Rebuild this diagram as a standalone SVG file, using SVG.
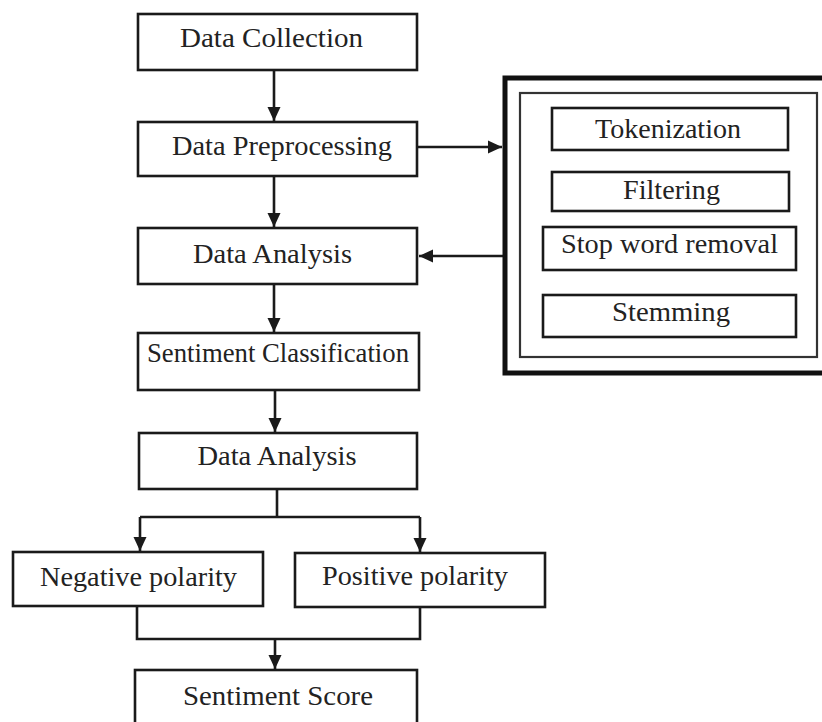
<svg xmlns="http://www.w3.org/2000/svg" width="822" height="722" viewBox="0 0 822 722">
<style>
.box{fill:#fff;stroke:#1a1a1a;stroke-width:2.6}
.t{font-family:"Liberation Serif","Times New Roman",serif;font-size:28px;fill:#222;text-anchor:middle}
.c{fill:none;stroke:#1a1a1a;stroke-width:2.6}
</style>
<defs>
<marker id="ah" markerUnits="userSpaceOnUse" markerWidth="16" markerHeight="14" refX="14" refY="7" orient="auto">
<path d="M0,0.5 L14,7 L0,13.5 Z" fill="#1a1a1a"/>
</marker>
</defs>
<rect width="822" height="722" fill="#fff"/>
<g id="connectors">
<line class="c" x1="274" y1="70" x2="274" y2="121" marker-end="url(#ah)"/>
<line class="c" x1="274" y1="176" x2="274" y2="227" marker-end="url(#ah)"/>
<line class="c" x1="274" y1="284" x2="274" y2="332" marker-end="url(#ah)"/>
<line class="c" x1="275" y1="390" x2="275" y2="432" marker-end="url(#ah)"/>
<polyline class="c" points="277,489 277,517"/>
<polyline class="c" points="140,517 420,517"/>
<line class="c" x1="140" y1="517" x2="140" y2="551" marker-end="url(#ah)"/>
<line class="c" x1="420" y1="517" x2="420" y2="552" marker-end="url(#ah)"/>
<polyline class="c" points="137,606 137,639 420,639 420,607"/>
<line class="c" x1="275" y1="639" x2="275" y2="669" marker-end="url(#ah)"/>
<line class="c" x1="417" y1="147" x2="502" y2="147" marker-end="url(#ah)"/>
<line class="c" x1="503" y1="256" x2="419" y2="256" marker-end="url(#ah)"/>
</g>
<g id="data-collection"><rect class="box" x="138" y="14" width="279" height="56"/><text class="t" x="271.5" y="47" textLength="183" lengthAdjust="spacingAndGlyphs">Data Collection</text></g>
<g id="data-preprocessing"><rect class="box" x="138" y="122" width="279" height="54"/><text class="t" x="282" y="155" textLength="220" lengthAdjust="spacingAndGlyphs">Data Preprocessing</text></g>
<g id="data-analysis-1"><rect class="box" x="138" y="228" width="279" height="56"/><text class="t" x="272.5" y="263" textLength="159" lengthAdjust="spacingAndGlyphs">Data Analysis</text></g>
<g id="sentiment-classification"><rect class="box" x="138" y="333" width="281" height="57"/><text class="t" x="278" y="362" textLength="262" lengthAdjust="spacingAndGlyphs">Sentiment Classification</text></g>
<g id="data-analysis-2"><rect class="box" x="139" y="433" width="278" height="56"/><text class="t" x="277" y="465" textLength="159" lengthAdjust="spacingAndGlyphs">Data Analysis</text></g>
<g id="negative-polarity"><rect class="box" x="13" y="552" width="250" height="54"/><text class="t" x="138.5" y="586" textLength="197" lengthAdjust="spacingAndGlyphs">Negative polarity</text></g>
<g id="positive-polarity"><rect class="box" x="295" y="553" width="250" height="54"/><text class="t" x="415" y="585" textLength="186" lengthAdjust="spacingAndGlyphs">Positive polarity</text></g>
<g id="sentiment-score"><rect class="box" x="135" y="670" width="282" height="60"/><text class="t" x="278" y="705" textLength="190" lengthAdjust="spacingAndGlyphs">Sentiment Score</text></g>
<g id="preprocessing-panel">
<rect x="505" y="78" width="322" height="295" fill="#fff" stroke="#111" stroke-width="5"/>
<rect x="520" y="93" width="297" height="264" fill="none" stroke="#333" stroke-width="2.2"/>
</g>
<g id="tokenization"><rect class="box" x="552" y="108" width="236" height="42"/><text class="t" x="668" y="138" textLength="146" lengthAdjust="spacingAndGlyphs">Tokenization</text></g>
<g id="filtering"><rect class="box" x="552" y="172" width="237" height="39"/><text class="t" x="671.5" y="199" textLength="97" lengthAdjust="spacingAndGlyphs">Filtering</text></g>
<g id="stop-word-removal"><rect class="box" x="543" y="227" width="253" height="43"/><text class="t" x="669.5" y="253" textLength="217" lengthAdjust="spacingAndGlyphs">Stop word removal</text></g>
<g id="stemming"><rect class="box" x="543" y="295" width="253" height="42"/><text class="t" x="671" y="321" textLength="118" lengthAdjust="spacingAndGlyphs">Stemming</text></g>
</svg>
